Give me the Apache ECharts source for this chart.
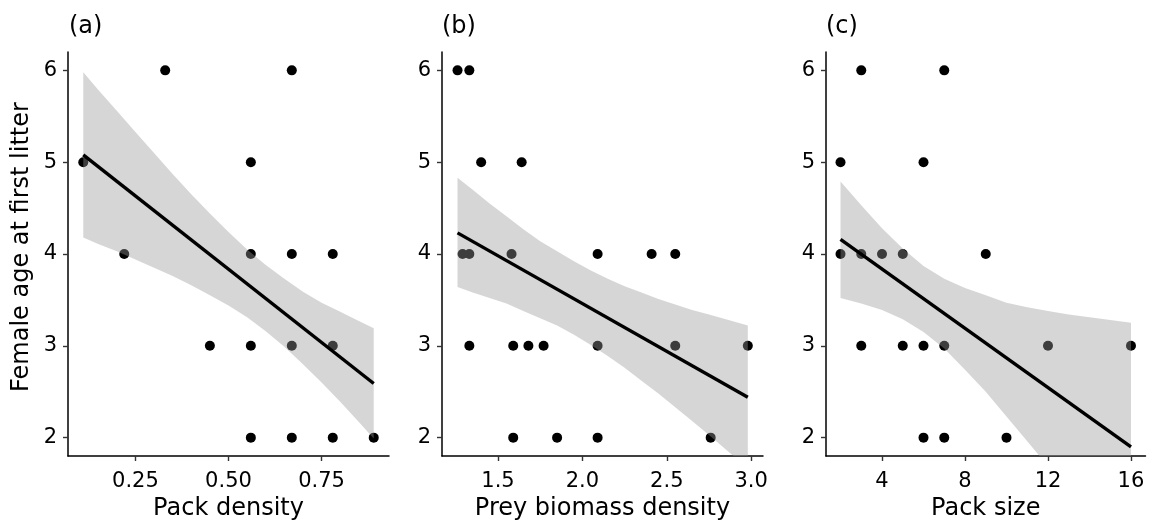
<!DOCTYPE html>
<html><head><meta charset="utf-8">
<script src="https://cdn.jsdelivr.net/npm/echarts@6/dist/echarts.min.js"></script>
<style>html,body{margin:0;padding:0;background:#fff}#c{width:1149px;height:526px}</style>
</head><body><div id="c"></div>
<script>
// ---------- data ----------
// (a) Pack density
const packDensity = [0.11, 0.22, 0.33, 0.45, 0.56, 0.56, 0.56, 0.56, 0.67, 0.67, 0.67, 0.67, 0.78, 0.78, 0.78, 0.89];
const ageA        = [5,    4,    6,    3,    5,    4,    3,    2,    6,    4,    3,    2,    4,    3,    2,    2];
const fitXA = [0.11, 0.89];
const fitYA = [5.08, 2.59];
const bandXA  = [0.11, 0.15, 0.2, 0.25, 0.3, 0.35, 0.4, 0.45, 0.5, 0.55, 0.6, 0.65, 0.7, 0.75, 0.8, 0.85, 0.89];
const bandUpA = [5.98, 5.79, 5.56, 5.33, 5.10, 4.87, 4.65, 4.44, 4.24, 4.05, 3.88, 3.73, 3.59, 3.47, 3.37, 3.27, 3.19];
const bandLoA = [4.18, 4.11, 4.03, 3.94, 3.85, 3.76, 3.66, 3.55, 3.44, 3.31, 3.16, 2.99, 2.80, 2.60, 2.39, 2.17, 1.99];
const ticksA  = [0.25, 0.5, 0.75];
const labelsA = ['0.25', '0.50', '0.75'];

// (b) Prey biomass density
const preyBiomass = [1.26, 1.33, 1.40, 1.64, 1.29, 1.33, 1.58, 2.09, 2.41, 2.55, 1.33, 1.59, 1.68, 1.77, 2.09, 2.55, 2.98, 1.59, 1.85, 2.09, 2.76];
const ageB        = [6,    6,    5,    5,    4,    4,    4,    4,    4,    4,    3,    3,    3,    3,    3,    3,    3,    2,    2,    2,    2];
const fitXB = [1.26, 2.98];
const fitYB = [4.23, 2.44];
const bandXB  = [1.26, 1.35, 1.45, 1.55, 1.65, 1.75, 1.85, 1.95, 2.05, 2.15, 2.25, 2.35, 2.45, 2.55, 2.65, 2.75, 2.85, 2.98];
const bandUpB = [4.83, 4.70, 4.55, 4.41, 4.27, 4.14, 4.03, 3.92, 3.82, 3.73, 3.65, 3.58, 3.51, 3.45, 3.39, 3.34, 3.29, 3.22];
const bandLoB = [3.64, 3.58, 3.52, 3.46, 3.38, 3.30, 3.22, 3.12, 3.01, 2.89, 2.76, 2.62, 2.48, 2.33, 2.18, 2.03, 1.87, 1.67];
const ticksB  = [1.5, 2.0, 2.5, 3.0];
const labelsB = ['1.5', '2.0', '2.5', '3.0'];

// (c) Pack size
const packSize = [3, 7, 2, 6, 2, 3, 4, 5, 9, 3, 5, 6, 7, 12, 16, 6, 7, 10];
const ageC     = [6, 6, 5, 5, 4, 4, 4, 4, 4, 3, 3, 3, 3, 3,  3,  2, 2, 2];
const fitXC = [2, 16];
const fitYC = [4.16, 1.90];
const bandXC  = [2, 3, 4, 5, 6, 7, 8, 9, 10, 11, 12, 13, 14, 15, 16];
const bandUpC = [4.79, 4.53, 4.28, 4.06, 3.87, 3.73, 3.63, 3.55, 3.47, 3.42, 3.38, 3.34, 3.31, 3.28, 3.25];
const bandLoC = [3.52, 3.46, 3.39, 3.29, 3.15, 2.97, 2.74, 2.50, 2.23, 1.96, 1.69, 1.40, 1.12, 0.84, 0.55];
const ticksC  = [4, 8, 12, 16];
const labelsC = ['4', '8', '12', '16'];

const yTicks  = [2, 3, 4, 5, 6];
const yLabels = ['2', '3', '4', '5', '6'];

const panelTags = ['(a)', '(b)', '(c)'];
const xTitles = ['Pack density', 'Prey biomass density', 'Pack size'];
const yTitle = 'Female age at first litter';

// ---------- layout ----------
const FONT = 'DejaVu Sans';
const grids = [
  {left: 68,  top: 52, width: 321,   height: 404},
  {left: 442, top: 52, width: 321,   height: 404},
  {left: 826, top: 52, width: 319.5, height: 404}
];
const xRanges = [[0.069, 0.931], [1.168, 3.07], [1.3, 16.7]];
const yRange = [1.8, 6.2];

const panels = [
  {x: packDensity, y: ageA, fx: fitXA, fy: fitYA, bx: bandXA, bu: bandUpA, bl: bandLoA, ticks: ticksA, labels: labelsA},
  {x: preyBiomass, y: ageB, fx: fitXB, fy: fitYB, bx: bandXB, bu: bandUpB, bl: bandLoB, ticks: ticksB, labels: labelsB},
  {x: packSize,    y: ageC, fx: fitXC, fy: fitYC, bx: bandXC, bu: bandUpC, bl: bandLoC, ticks: ticksC, labels: labelsC}
];

function labelFor(ticks, labels) {
  return function (v) {
    for (let i = 0; i < ticks.length; i++) if (Math.abs(ticks[i] - v) < 1e-9) return labels[i];
    return '';
  };
}

const axisLine = {show: true, onZero: false, lineStyle: {color: '#000', width: 1.5}};
const axisTick = {show: true, inside: false, length: 5, lineStyle: {color: '#333', width: 1.4}};

const xAxis = panels.map((p, i) => ({
  type: 'value', gridIndex: i, min: xRanges[i][0], max: xRanges[i][1],
  axisLine, splitLine: {show: false},
  axisTick: Object.assign({}, axisTick, {customValues: p.ticks}),
  axisLabel: {customValues: p.ticks, formatter: labelFor(p.ticks, p.labels), margin: 15,
              fontFamily: FONT, fontSize: 21, color: '#000'},
  name: xTitles[i], nameLocation: 'middle', nameGap: 41,
  nameTextStyle: {fontFamily: FONT, fontSize: 24, color: '#000'}
}));

const yAxis = panels.map((p, i) => ({
  type: 'value', gridIndex: i, min: yRange[0], max: yRange[1],
  axisLine, splitLine: {show: false},
  axisTick: Object.assign({}, axisTick, {customValues: yTicks}),
  axisLabel: {customValues: yTicks, formatter: labelFor(yTicks, yLabels), margin: 11,
              fontFamily: FONT, fontSize: 21, color: '#000'}
}));

const series = [];
panels.forEach((p, i) => {
  series.push({
    type: 'scatter', xAxisIndex: i, yAxisIndex: i, z: 2, silent: true,
    symbol: 'circle', symbolSize: 10, itemStyle: {color: '#000', opacity: 1},
    data: p.x.map((v, k) => [v, p.y[k]])
  });
  series.push({
    type: 'custom', xAxisIndex: i, yAxisIndex: i, z: 3, silent: true, clip: true,
    data: [[p.bx[0], p.bu[0]]],
    renderItem: function (params, api) {
      const pts = [];
      for (let k = 0; k < p.bx.length; k++) pts.push(api.coord([p.bx[k], p.bu[k]]));
      for (let k = p.bx.length - 1; k >= 0; k--) pts.push(api.coord([p.bx[k], p.bl[k]]));
      const cs = params.coordSys;
      return {
        type: 'polygon', shape: {points: pts},
        style: {fill: 'rgba(153,153,153,0.4)'},
        clipPath: {type: 'rect', shape: {x: cs.x, y: cs.y, width: cs.width, height: cs.height}}
      };
    }
  });
  series.push({
    type: 'line', xAxisIndex: i, yAxisIndex: i, z: 4, silent: true,
    symbol: 'none', lineStyle: {color: '#000', width: 3.4},
    data: p.fx.map((v, k) => [v, p.fy[k]])
  });
});

const tagX = [69, 442, 826];
const graphic = panelTags.map((t, i) => ({
  type: 'text', x: tagX[i], y: 27,
  style: {text: t, fontFamily: FONT, fontSize: 24, fill: '#000', align: 'left', verticalAlign: 'middle'}
}));
graphic.push({
  type: 'text', x: 22, y: 247, rotation: Math.PI / 2,
  style: {text: yTitle, fontFamily: FONT, fontSize: 24, fill: '#000', align: 'center', verticalAlign: 'middle'}
});

const chart = echarts.init(document.getElementById('c'), null, {renderer: 'canvas'});
chart.setOption({
  animation: false,
  backgroundColor: '#fff',
  grid: grids.map(g => Object.assign({containLabel: false, outerBoundsMode: 'none'}, g)),
  xAxis, yAxis, series, graphic
});
</script>
</body></html>
